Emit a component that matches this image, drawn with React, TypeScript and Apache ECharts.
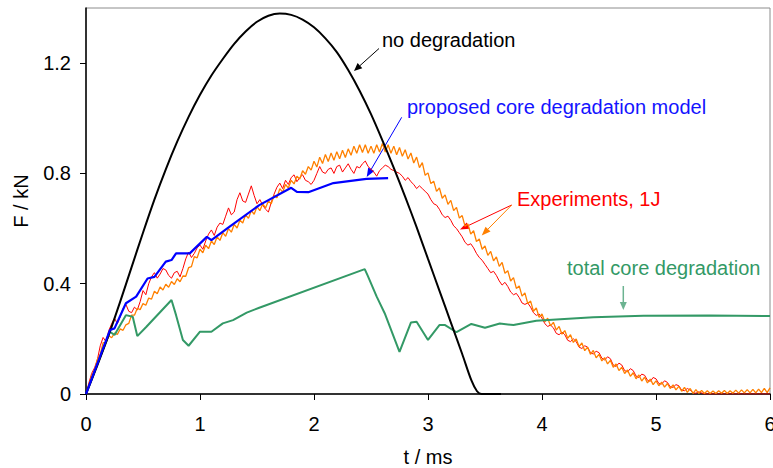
import React, { useEffect, useRef } from "react";
import * as echarts from "echarts";

// "no degradation" (black)
const noDegT = [0, 0.1, 0.2, 0.3, 0.4, 0.5, 0.6, 0.7, 0.8, 0.9, 1.0, 1.1, 1.2, 1.3, 1.4, 1.5, 1.6, 1.7, 1.8, 1.9, 2.0, 2.1, 2.2, 2.3, 2.4, 2.5, 2.6, 2.7, 2.8, 2.9, 3.0, 3.1, 3.2, 3.3, 3.38, 3.43, 3.47, 3.64];
const noDegF = [0, 0.105, 0.215, 0.335, 0.46, 0.585, 0.705, 0.815, 0.915, 1.005, 1.085, 1.155, 1.215, 1.27, 1.315, 1.35, 1.372, 1.38, 1.375, 1.358, 1.33, 1.29, 1.24, 1.175, 1.1, 1.015, 0.92, 0.82, 0.715, 0.605, 0.49, 0.375, 0.26, 0.145, 0.05, 0.01, 0, 0];

// "proposed core degradation model" (blue)
const modelT = [0, 0.21, 0.25, 0.35, 0.44, 0.54, 0.6, 0.7, 0.75, 0.79, 0.91, 1.06, 1.1, 1.26, 1.52, 1.8, 1.85, 1.95, 2.17, 2.46, 2.65];
const modelF = [0, 0.232, 0.238, 0.329, 0.353, 0.419, 0.425, 0.48, 0.486, 0.51, 0.51, 0.57, 0.558, 0.607, 0.685, 0.748, 0.733, 0.732, 0.765, 0.78, 0.783];

// "total core degradation" (green)
const totalT = [0, 0.21, 0.25, 0.35, 0.41, 0.45, 0.53, 0.75, 0.79, 0.85, 0.9, 1.0, 1.1, 1.2, 1.29, 1.41, 1.52, 2.445, 2.47, 2.55, 2.62, 2.75, 2.85, 2.9, 3.0, 3.1, 3.15, 3.25, 3.38, 3.5, 3.63, 3.75, 3.95, 4.16, 4.45, 4.89, 5.47, 6.0];
const totalF = [0, 0.226, 0.214, 0.286, 0.28, 0.21, 0.244, 0.341, 0.286, 0.196, 0.175, 0.226, 0.226, 0.256, 0.268, 0.295, 0.313, 0.453, 0.43, 0.353, 0.293, 0.153, 0.259, 0.262, 0.196, 0.25, 0.25, 0.224, 0.254, 0.24, 0.256, 0.25, 0.266, 0.271, 0.278, 0.284, 0.285, 0.283];

// "Experiments, 1J": two measured curves, sampled every 0.025 ms from t = 0 (20 samples per row = 0.5 ms)
const expStep = 0.025;
const expRed = [
  0, 0.04, 0.075, 0.095, 0.125, 0.175, 0.205, 0.19, 0.23, 0.255, 0.275, 0.255, 0.28, 0.31, 0.325, 0.3, 0.295, 0.315, 0.305, 0.335,
  0.375, 0.36, 0.4, 0.425, 0.44, 0.42, 0.435, 0.455, 0.45, 0.43, 0.42, 0.44, 0.445, 0.425, 0.455, 0.49, 0.515, 0.495, 0.51, 0.53,
  0.54, 0.525, 0.555, 0.58, 0.595, 0.575, 0.605, 0.62, 0.615, 0.645, 0.675, 0.65, 0.66, 0.705, 0.73, 0.7, 0.695, 0.725, 0.755, 0.72,
  0.69, 0.705, 0.685, 0.67, 0.66, 0.695, 0.725, 0.75, 0.765, 0.745, 0.775, 0.76, 0.785, 0.795, 0.77, 0.785, 0.795, 0.775, 0.77, 0.76,
  0.775, 0.8, 0.825, 0.805, 0.8, 0.815, 0.82, 0.8, 0.825, 0.83, 0.805, 0.82, 0.835, 0.815, 0.8, 0.825, 0.82, 0.835, 0.845, 0.825,
  0.815, 0.805, 0.79, 0.81, 0.82, 0.83, 0.825, 0.815, 0.81, 0.805, 0.8, 0.79, 0.775, 0.785, 0.77, 0.76, 0.745, 0.755, 0.745, 0.735,
  0.725, 0.705, 0.69, 0.685, 0.67, 0.65, 0.64, 0.645, 0.63, 0.61, 0.6, 0.585, 0.57, 0.55, 0.54, 0.545, 0.53, 0.51, 0.495, 0.485,
  0.47, 0.455, 0.44, 0.445, 0.43, 0.41, 0.395, 0.405, 0.39, 0.37, 0.36, 0.365, 0.35, 0.33, 0.325, 0.33, 0.315, 0.295, 0.285, 0.29,
  0.275, 0.255, 0.245, 0.25, 0.24, 0.22, 0.215, 0.225, 0.215, 0.195, 0.19, 0.2, 0.19, 0.17, 0.165, 0.175, 0.17, 0.15, 0.145, 0.155,
  0.15, 0.13, 0.123, 0.135, 0.128, 0.105, 0.1, 0.112, 0.105, 0.085, 0.08, 0.092, 0.085, 0.065, 0.06, 0.072, 0.068, 0.05, 0.046, 0.06,
  0.055, 0.038, 0.036, 0.048, 0.042, 0.026, 0.024, 0.034, 0.03, 0.014, 0.012, 0.02, 0.014, 0.004, 0.003, 0.008, 0.004, 0, 0, 0,
  0, 0, 0, 0, 0, 0, 0, 0, 0, 0, 0, 0, 0, 0, 0, 0, 0, 0, 0, 0,
  0,
];
const expOrange = [
  0, 0.025, 0.066, 0.084, 0.126, 0.144, 0.186, 0.186, 0.211, 0.204, 0.221, 0.216, 0.236, 0.231, 0.251, 0.256, 0.286, 0.286, 0.311, 0.306,
  0.328, 0.322, 0.348, 0.344, 0.373, 0.364, 0.388, 0.377, 0.398, 0.387, 0.408, 0.397, 0.418, 0.407, 0.428, 0.427, 0.458, 0.462, 0.498, 0.494,
  0.525, 0.512, 0.54, 0.527, 0.555, 0.542, 0.57, 0.557, 0.585, 0.572, 0.6, 0.587, 0.615, 0.602, 0.63, 0.62, 0.65, 0.637, 0.665, 0.652,
  0.68, 0.665, 0.69, 0.675, 0.7, 0.69, 0.72, 0.712, 0.745, 0.732, 0.76, 0.747, 0.775, 0.762, 0.79, 0.78, 0.81, 0.797, 0.825, 0.812,
  0.844, 0.823, 0.859, 0.836, 0.869, 0.843, 0.874, 0.848, 0.879, 0.853, 0.884, 0.858, 0.889, 0.866, 0.899, 0.873, 0.904, 0.876, 0.904, 0.873,
  0.899, 0.873, 0.904, 0.878, 0.909, 0.878, 0.904, 0.873, 0.899, 0.868, 0.894, 0.862, 0.886, 0.852, 0.874, 0.838, 0.859, 0.821, 0.839, 0.793,
  0.802, 0.763, 0.772, 0.735, 0.747, 0.71, 0.722, 0.688, 0.702, 0.665, 0.677, 0.638, 0.647, 0.608, 0.617, 0.58, 0.592, 0.553, 0.562, 0.525,
  0.537, 0.503, 0.517, 0.483, 0.497, 0.463, 0.477, 0.438, 0.447, 0.41, 0.422, 0.383, 0.392, 0.355, 0.367, 0.328, 0.337, 0.3, 0.312, 0.278,
  0.29, 0.262, 0.275, 0.247, 0.26, 0.232, 0.245, 0.217, 0.23, 0.202, 0.215, 0.187, 0.2, 0.172, 0.185, 0.157, 0.17, 0.144, 0.158, 0.131,
  0.144, 0.12, 0.132, 0.109, 0.122, 0.097, 0.109, 0.085, 0.097, 0.074, 0.087, 0.064, 0.077, 0.055, 0.069, 0.047, 0.061, 0.04, 0.054, 0.034,
  0.048, 0.03, 0.043, 0.025, 0.038, 0.02, 0.033, 0.015, 0.028, 0.01, 0.024, 0.006, 0.02, 0.002, 0.016, 0.002, 0.013, 0.002, 0.012, 0.002,
  0.011, 0.002, 0.012, 0.003, 0.013, 0.002, 0.012, 0.003, 0.014, 0.003, 0.015, 0.004, 0.016, 0.004, 0.017, 0.004, 0.018, 0.005, 0.02, 0.005,
  0.022,
];

const xTicks = [0, 1, 2, 3, 4, 5, 6];
const yTicks = [0, 0.4, 0.8, 1.2];

const FONT = "'Liberation Sans', Arial, sans-serif";

const zip = (t: number[], f: number[]) => t.map((v, i) => [v, f[i]]);
const sampled = (f: number[]) => f.map((v, i) => [+(i * expStep).toFixed(3), v]);

function arrow(x1: number, y1: number, x2: number, y2: number, color: string, width = 1, head = 8, hw = 3.5) {
  const dx = x2 - x1;
  const dy = y2 - y1;
  const L = Math.hypot(dx, dy);
  const ux = dx / L;
  const uy = dy / L;
  const bx = x2 - ux * head;
  const by = y2 - uy * head;
  const px = -uy * hw;
  const py = ux * hw;
  return [
    { type: "line", silent: true, shape: { x1, y1, x2: bx, y2: by }, style: { stroke: color, lineWidth: width } },
    {
      type: "polygon",
      silent: true,
      shape: { points: [[x2, y2], [bx + px, by + py], [bx - px, by - py]] },
      style: { fill: color },
    },
  ];
}

function label(text: string, x: number, y: number, color: string) {
  return {
    type: "text",
    x,
    y,
    silent: true,
    style: { text, fill: color, font: `20px ${FONT}`, textAlign: "left", textVerticalAlign: "middle" },
  };
}

export default function App() {
  const ref = useRef<HTMLDivElement>(null);

  useEffect(() => {
    document.body.style.margin = "0";
    if (!ref.current) return;
    const chart = echarts.init(ref.current, undefined, { renderer: "svg" });
    const GREEN = "#339966";
    const ORANGE = "#ff8000";
    chart.setOption({
      animation: false,
      backgroundColor: "#ffffff",
      textStyle: { fontFamily: FONT },
      grid: {
        left: 86,
        right: 3,
        top: 8,
        bottom: 74,
        show: true,
        borderColor: "#8c8c8c",
        borderWidth: 1,
        outerBoundsMode: "none",
        containLabel: false,
      },
      xAxis: {
        type: "value",
        min: 0,
        max: 6,
        interval: 1,
        name: "t / ms",
        nameLocation: "middle",
        nameGap: 53,
        nameTextStyle: { fontSize: 20, color: "#000", fontFamily: FONT },
        axisLine: { lineStyle: { color: "#000", width: 1.5 } },
        axisTick: { show: true, inside: false, length: 6, lineStyle: { color: "#000" }, customValues: xTicks },
        axisLabel: { fontSize: 20, color: "#000", margin: 20, fontFamily: FONT, customValues: xTicks },
        splitLine: { show: false },
      },
      yAxis: {
        type: "value",
        min: 0,
        max: 1.4,
        interval: 0.4,
        name: "F / kN",
        nameLocation: "middle",
        nameGap: 55,
        nameTextStyle: { fontSize: 20, color: "#000", fontFamily: FONT },
        axisLine: { show: true, lineStyle: { color: "#000", width: 1.5 } },
        axisTick: { show: true, inside: false, length: 6, lineStyle: { color: "#000" }, customValues: yTicks },
        axisLabel: { fontSize: 20, color: "#000", margin: 15, fontFamily: FONT, customValues: yTicks },
        splitLine: { show: false },
      },
      series: [
        {
          name: "Experiments, 1J (a)",
          type: "line",
          data: sampled(expRed),
          showSymbol: false,
          lineStyle: { color: "#ff0000", width: 1 },
          z: 2,
        },
        {
          name: "Experiments, 1J (b)",
          type: "line",
          data: sampled(expOrange),
          showSymbol: false,
          lineStyle: { color: ORANGE, width: 1.3 },
          z: 3,
        },
        {
          name: "total core degradation",
          type: "line",
          data: zip(totalT, totalF),
          showSymbol: false,
          lineStyle: { color: GREEN, width: 2 },
          z: 4,
        },
        {
          name: "no degradation",
          type: "line",
          data: zip(noDegT, noDegF),
          showSymbol: false,
          smooth: 0.3,
          lineStyle: { color: "#000", width: 2 },
          z: 5,
        },
        {
          name: "proposed core degradation model",
          type: "line",
          data: zip(modelT, modelF),
          showSymbol: false,
          lineStyle: { color: "#0000ff", width: 2.2 },
          z: 6,
        },
      ],
      graphic: [
        label("no degradation", 382, 40, "#000"),
        label("proposed core degradation model", 407, 106.5, "#1414ff"),
        label("Experiments, 1J", 517, 199, "#ff0000"),
        label("total core degradation", 567, 268, GREEN),
        ...arrow(379, 48.5, 354, 71, "#000", 1, 8, 3.5),
        ...arrow(401.7, 117.3, 366.7, 177, "#0000ff", 1, 9, 3.5),
        ...arrow(511.7, 205, 460, 229.5, "#ff0000", 1, 9, 3.5),
        ...arrow(511.7, 205, 481.7, 235.5, ORANGE, 1, 9, 3.5),
        ...arrow(623.3, 286, 623.3, 310, "#6cb391", 1.5, 8, 3.5),
      ],
    });
    return () => chart.dispose();
  }, []);

  return <div ref={ref} style={{ width: 773, height: 468 }} />;
}
